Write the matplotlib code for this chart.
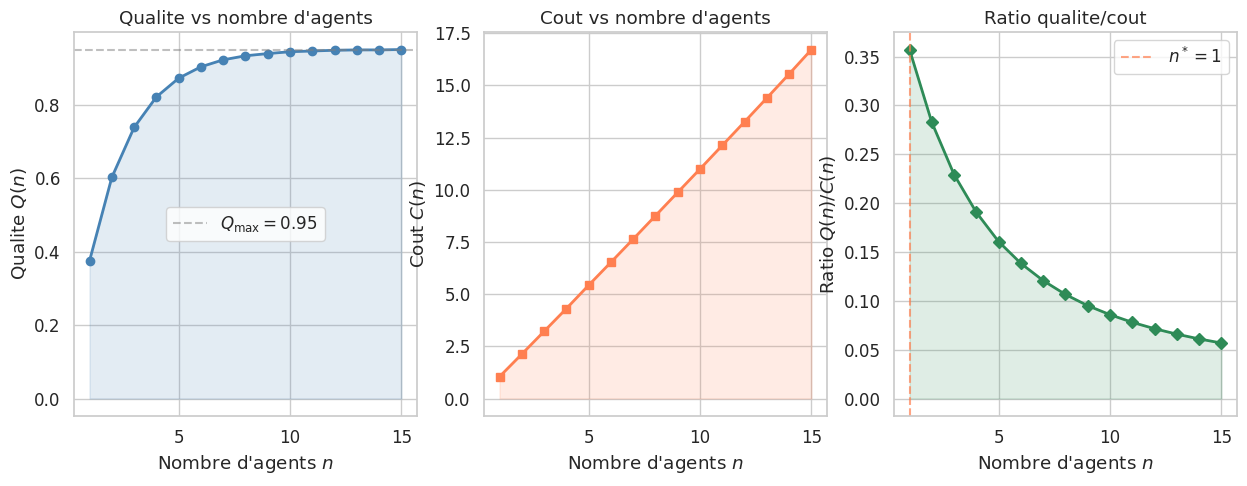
import matplotlib
matplotlib.use("Agg")
import matplotlib.pyplot as plt
import numpy as np
import seaborn as sns

# donnees
n = np.arange(1, 16)
qualite = np.array([0.375, 0.602, 0.738, 0.821, 0.872, 0.903, 0.922, 0.933,
                    0.939, 0.944, 0.946, 0.948, 0.949, 0.949, 0.950])
cout = np.array([1.05, 2.13, 3.22, 4.31, 5.43, 6.53, 7.64, 8.76, 9.88,
                 11.00, 12.13, 13.26, 14.40, 15.55, 16.72])
q_max = 0.95
n_opt = 1
ratio = qualite / cout
xticks = [5, 10, 15]

sns.set_theme(style="whitegrid", font_scale=1.1)

fig, axes = plt.subplots(1, 3, figsize=(12.47, 4.86), dpi=100)
fig.subplots_adjust(left=0.0593, right=0.992, top=0.934, bottom=0.144, wspace=0.195)

ax = axes[0]
ax.plot(n, qualite, "o-", color="steelblue", lw=2, ms=6)
ax.fill_between(n, 0, qualite, color="steelblue", alpha=0.15)
ax.axhline(q_max, color="gray", ls="--", alpha=0.5, label=r"$Q_{\max} = 0.95$")
ax.set_xlabel("Nombre d'agents $n$")
ax.set_ylabel("Qualite $Q(n)$")
ax.set_title("Qualite vs nombre d'agents")
ax.legend(loc="center")

ax = axes[1]
ax.plot(n, cout, "s-", color="coral", lw=2, ms=6)
ax.fill_between(n, 0, cout, color="coral", alpha=0.15)
ax.set_xlabel("Nombre d'agents $n$")
ax.set_ylabel("Cout $C(n)$")
ax.set_title("Cout vs nombre d'agents")

ax = axes[2]
ax.plot(n, ratio, "D-", color="seagreen", lw=2, ms=6)
ax.fill_between(n, 0, ratio, color="seagreen", alpha=0.15)
ax.axvline(n_opt, color="coral", ls="--", alpha=0.7, label=r"$n^* = %d$" % n_opt)
ax.set_xlabel("Nombre d'agents $n$")
ax.set_ylabel("Ratio $Q(n)/C(n)$")
ax.set_title("Ratio qualite/cout")
ax.legend(loc="upper right")

for ax in axes:
    ax.set_xticks(xticks)

fig.savefig("out.png", dpi=100)
